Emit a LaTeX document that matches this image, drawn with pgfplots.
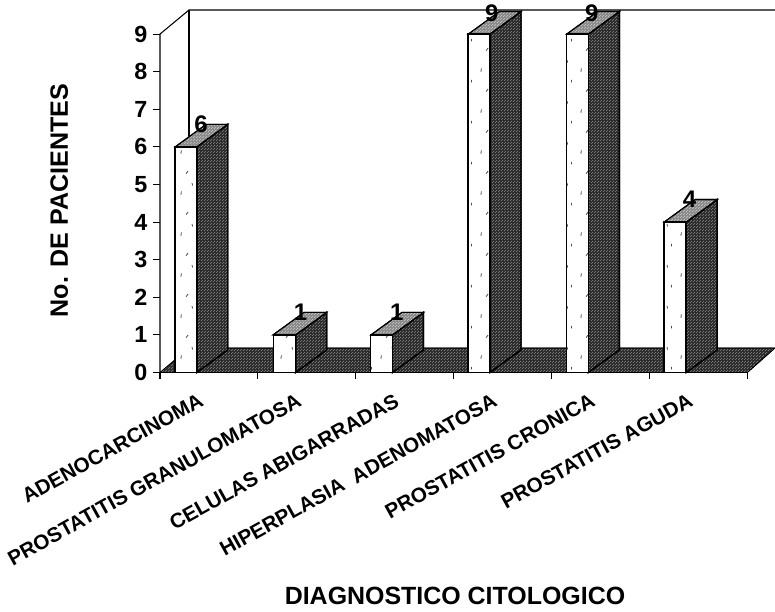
\documentclass[border=0pt]{standalone}
\usepackage{pgfplots}
\pgfplotsset{compat=1.18}
\usepackage{fontspec}
\setmainfont{Liberation Sans}
\usetikzlibrary{patterns}
\pgfdeclarepatternformonly{specks}{\pgfpointorigin}{\pgfpoint{19pt}{31pt}}{\pgfpoint{19pt}{31pt}}{%
 \pgfsetlinewidth{0.6pt}%
 \pgfpathmoveto{\pgfpoint{3pt}{4pt}}\pgfpathlineto{\pgfpoint{3.4pt}{6.5pt}}%
 \pgfpathmoveto{\pgfpoint{12pt}{11pt}}\pgfpathlineto{\pgfpoint{11.5pt}{13pt}}%
 \pgfpathmoveto{\pgfpoint{7pt}{20pt}}\pgfpathlineto{\pgfpoint{8.5pt}{22pt}}%
 \pgfpathmoveto{\pgfpoint{15pt}{27pt}}\pgfpathlineto{\pgfpoint{15pt}{29pt}}%
 \pgfusepath{stroke}}
\pgfdeclarepatternformonly{fineDots}{\pgfpointorigin}{\pgfpoint{2.4pt}{2.4pt}}{\pgfpoint{2.4pt}{2.4pt}}{%
 \pgfpathrectangle{\pgfpoint{0pt}{0pt}}{\pgfpoint{0.6pt}{0.6pt}}%
 \pgfpathrectangle{\pgfpoint{1.2pt}{1.2pt}}{\pgfpoint{0.6pt}{0.6pt}}%
 \pgfusepath{fill}}
\tikzset{dark/.style={draw=black,line width=1pt,fill=black!82,postaction={pattern=fineDots,pattern color=white!85!black}},
 topf/.style={draw=black,line width=0.8pt,fill=black!45,postaction={pattern=fineDots,pattern color=white}}}
% side and top faces of one bar: #1 left edge of front, #2 right edge of front, #3 value
\newcommand{\barfaces}[3]{%
 \addplot[dark] coordinates {(#2,0)(#2+0.317,0.6)(#2+0.317,#3+0.6)(#2,#3)} -- cycle;
 \addplot[topf] coordinates {(#1,#3)(#2,#3)(#2+0.317,#3+0.6)(#1+0.317,#3+0.6)} -- cycle;
}
\begin{document}
\begin{tikzpicture}[x=1pt,y=1pt]
\useasboundingbox (-120pt,-178.875pt) rectangle (461.25pt,279.375pt);
\begin{axis}[
 scale only axis,width=461.25pt,height=271.875pt,
 xmin=0,xmax=6.282,ymin=0,ymax=9.64,clip=false,
 axis x line=bottom,axis y line=left,
 axis line style={draw=none,-},
 xtick={0,1,2,3,4,5,6},xticklabels={},
 ytick={0,1,2,3,4,5,6,7,8,9},
 tick align=outside,major tick length=5pt,
 tick style={black,line width=0.8pt},
 yticklabel style={font=\fontsize{17.5}{18}\selectfont\bfseries,xshift=-1pt},
 /pgf/number format/assume math mode=true,
 extra x ticks={0.5,1.5,2.5,3.5,4.5,5.5},
 extra x tick labels={ADENOCARCINOMA,PROSTATITIS GRANULOMATOSA,CELULAS ABIGARRADAS,HIPERPLASIA\ \ ADENOMATOSA,PROSTATITIS CRONICA,PROSTATITIS AGUDA},
 extra x tick style={major tick length=0pt,
   xticklabel style={rotate=29,anchor=north east,font=\fontsize{15.5}{16}\selectfont\bfseries,inner sep=0pt,yshift=-9pt,xshift=-14.5pt}},
 xlabel={\textbf{DIAGNOSTICO CITOLOGICO}},
 xlabel style={at={(axis cs:3.013,-5.94)},anchor=center,font=\fontsize{18.7}{19}\selectfont},
 ylabel={\textbf{No. DE PACIENTES}},
 ylabel style={at={(axis cs:-1.03,4.57)},anchor=center,font=\fontsize{18.8}{19}\selectfont},
]
% walls
\addplot[black,line width=0.8pt] coordinates {(0,0)(0,9)(0.296,9.64)(6.282,9.64)};
\addplot[black,line width=0.8pt] coordinates {(0.296,9.64)(0.296,0.65)};
% floor
\addplot[dark,line width=0.5pt] coordinates {(0,0)(6,0)(6.282,0.65)(0.296,0.65)} -- cycle;
% bars
\barfaces{0.155}{0.375}{6}
\barfaces{1.155}{1.385}{1}
\barfaces{2.155}{2.375}{1}
\barfaces{3.150}{3.370}{9}
\barfaces{4.155}{4.375}{9}
\barfaces{5.150}{5.375}{4}
\addplot[ybar,bar shift=0pt,bar width=16.5pt,draw=black,line width=1pt,fill=white,
  postaction={pattern=specks,pattern color=black!70}]
 coordinates {(0.265,6)(1.270,1)(2.265,1)(3.260,9)(4.265,9)(5.262,4)};
% value labels
\addplot[draw=none,mark=none,point meta=explicit symbolic,nodes near coords,
 every node near coord/.style={anchor=center,inner sep=0pt,font=\fontsize{18}{18}\selectfont\bfseries}]
 coordinates {(0.419,6.61)[6] (1.435,1.61)[1] (2.42,1.61)[1] (3.39,9.56)[9] (4.41,9.56)[9] (5.41,4.62)[4]};
\addplot[black,line width=1pt] coordinates {(0,0)(6,0)};
\end{axis}
\end{tikzpicture}
\end{document}
